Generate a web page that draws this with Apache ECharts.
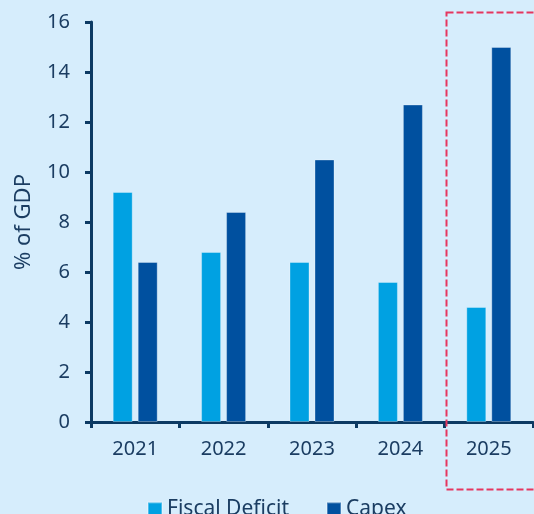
<!DOCTYPE html>
<html><head><meta charset="utf-8">
<script src="https://cdn.jsdelivr.net/npm/echarts@6/dist/echarts.min.js"></script>
<style>html,body{margin:0;padding:0;background:#d6edfc;}#c{width:534px;height:514px;}</style>
</head><body><div id="c"></div>
<script>
const categories = ['2021','2022','2023','2024','2025'];
const fiscalDeficit = [9.2, 6.8, 6.4, 5.6, 4.6];
const capex = [6.4, 8.4, 10.5, 12.7, 15.0];
const yTicks = [0, 2, 4, 6, 8, 10, 12, 14, 16];

const axisColor = '#0c3a63';
const textColor = '#1b3d62';
const font = '"Noto Sans", "Open Sans", sans-serif';

const chart = echarts.init(document.getElementById('c'), null, {renderer: 'canvas'});
chart.setOption({
  backgroundColor: '#d6edfc',
  animation: false,
  grid: {left: 91, right: 1, top: 22, bottom: 92, containLabel: false},
  legend: {
    data: ['Fiscal Deficit', 'Capex'],
    left: 142, top: 494,
    itemWidth: 14, itemHeight: 14, itemGap: 37,
    icon: 'rect',
    textStyle: {color: textColor, fontSize: 21, fontFamily: font}
  },
  xAxis: {
    type: 'category', data: categories,
    axisLine: {lineStyle: {color: axisColor, width: 3}},
    axisTick: {show: true, length: 6, lineStyle: {color: axisColor, width: 3}},
    axisLabel: {color: textColor, fontSize: 20, fontFamily: font, margin: 17}
  },
  yAxis: {
    type: 'value', min: yTicks[0], max: yTicks[yTicks.length-1], interval: 2,
    name: '% of GDP', nameLocation: 'middle', nameGap: 56, nameRotate: 90,
    nameTextStyle: {color: textColor, fontSize: 22, fontFamily: font},
    axisLine: {show: true, lineStyle: {color: axisColor, width: 3}},
    axisTick: {show: true, length: 6, lineStyle: {color: axisColor, width: 3}},
    axisLabel: {color: textColor, fontSize: 20, fontFamily: font, margin: 21},
    splitLine: {show: false}
  },
  series: [
    {name: 'Fiscal Deficit', type: 'bar', data: fiscalDeficit, barWidth: 20, barGap: '25%',
     itemStyle: {color: '#00a1e2', borderColor: 'rgba(255,255,255,0.3)', borderWidth: 1}},
    {name: 'Capex', type: 'bar', data: capex, barWidth: 20, barGap: '25%',
     itemStyle: {color: '#00509f', borderColor: 'rgba(255,255,255,0.3)', borderWidth: 1}}
  ],
  graphic: [{
    type: 'rect', z: 100,
    shape: {x: 446.5, y: 12.5, width: 100, height: 477},
    style: {fill: 'none', stroke: '#e5365f', lineWidth: 2, lineDash: [7, 3]}
  }]
});
</script></body></html>
